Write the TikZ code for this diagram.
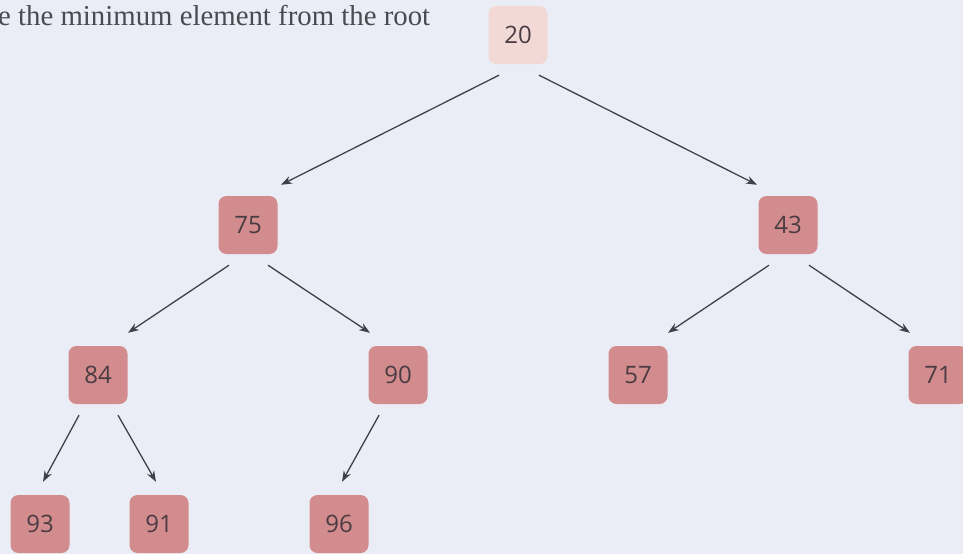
\documentclass[tikz,border=0pt]{standalone}
\usepackage{fontspec}
\usepackage{xcolor}
\usepackage{tikz}
\usetikzlibrary{arrows.meta}
\newfontfamily\keyfont{Open Sans}
\newfontfamily\notefont{Liberation Serif}
\definecolor{Paper}{HTML}{EAEDF6}
\definecolor{RootFill}{HTML}{F2D9D5}
\definecolor{KeyFill}{HTML}{D38C8D}
\definecolor{KeyText}{HTML}{4A3C42}
\definecolor{Edge}{HTML}{3E414A}
\definecolor{Note}{HTML}{4A4A50}
\tikzset{
  key/.style={fill=KeyFill,rounded corners=8pt,minimum width=59pt,minimum height=58pt,inner sep=0pt,text=KeyText,font=\keyfont\fontsize{24}{26}\selectfont},
  rootkey/.style={key,fill=RootFill},
  link/.style={-{Stealth[length=11pt,width=8pt]},line width=1.3pt,color=Edge}
}
\begin{document}
\begin{tikzpicture}[x=1pt,y=-1pt]
  \fill[Paper] (0,0) rectangle (963,554);
  \useasboundingbox (0,0) rectangle (963,554);
  \node[anchor=base west,inner sep=0pt,text=Note,font=\notefont\fontsize{28.8}{30}\selectfont] (caption) at (-2,25) {e the minimum element from the root};

  \node[rootkey] (n20) at (518,35) {20};
  \node[key] (n75) at (248,225) {75};
  \node[key] (n43) at (788,225) {43};
  \node[key] (n84) at (98,375) {84};
  \node[key] (n90) at (398,375) {90};
  \node[key] (n57) at (638,375) {57};
  \node[key] (n71) at (938,375) {71};
  \node[key] (n93) at (40,524) {93};
  \node[key] (n91) at (159,524) {91};
  \node[key] (n96) at (339,524) {96};

  \draw[link] ([xshift=-19pt,yshift=-11pt]n20.south) -- ([xshift=33pt,yshift=11pt]n75.north);
  \draw[link] ([xshift=21pt,yshift=-11pt]n20.south) -- ([xshift=-31pt,yshift=11pt]n43.north);
  \draw[link] ([xshift=-19pt,yshift=-11pt]n75.south) -- ([xshift=30pt,yshift=13pt]n84.north);
  \draw[link] ([xshift=20pt,yshift=-11pt]n75.south) -- ([xshift=-28pt,yshift=13pt]n90.north);
  \draw[link] ([xshift=-19pt,yshift=-11pt]n43.south) -- ([xshift=30pt,yshift=13pt]n57.north);
  \draw[link] ([xshift=21pt,yshift=-11pt]n43.south) -- ([xshift=-28pt,yshift=13pt]n71.north);
  \draw[link] ([xshift=-19pt,yshift=-11pt]n84.south) -- ([xshift=3pt,yshift=13pt]n93.north);
  \draw[link] ([xshift=20pt,yshift=-11pt]n84.south) -- ([xshift=-3pt,yshift=13pt]n91.north);
  \draw[link] ([xshift=-19pt,yshift=-11pt]n90.south) -- ([xshift=3pt,yshift=13pt]n96.north);
\end{tikzpicture}
\end{document}
